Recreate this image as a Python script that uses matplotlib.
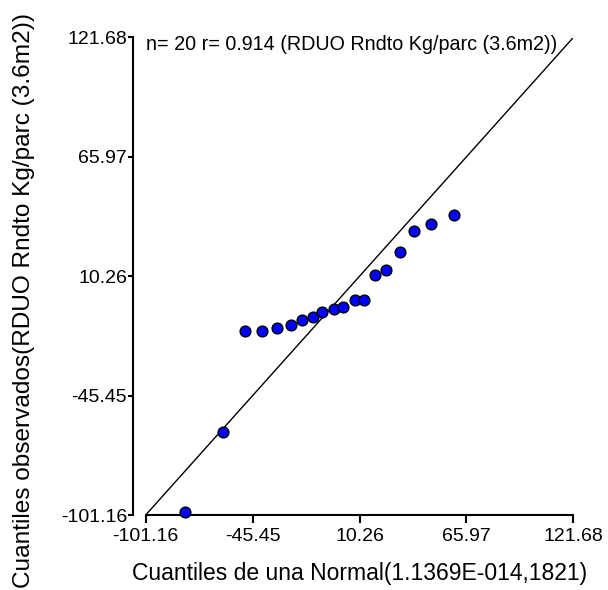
import matplotlib
matplotlib.use("Agg")
import matplotlib.pyplot as plt

plt.rcParams['font.family'] = ['Liberation Sans', 'DejaVu Sans']

# Data
theoretical = [-80.7, -60.9, -49.4, -40.4, -32.6, -25.6, -19.7, -13.9, -9.3, -3.0,
               1.8, 7.8, 12.6, 18.5, 24.2, 31.5, 38.5, 47.4, 59.3]
observed = [-99.8, -62.4, -15.2, -15.2, -13.9, -12.4, -10.3, -8.6, -6.6, -4.9,
            -3.9, -1.0, -1.0, 11.0, 13.0, 21.4, 31.4, 34.5, 39.0]
ticks = [-101.16, -45.45, 10.26, 65.97, 121.68]
tick_labels = ["-101.16", "-45.45", "10.26", "65.97", "121.68"]
lo, hi = -101.16, 121.68

fig = plt.figure(figsize=(6.08, 5.90), dpi=100)
ax = fig.add_axes([145.7/608, 1-515/590, (573.3-145.7)/608, (515-37.5)/590])

ax.plot([lo, hi], [lo, hi], color='black', lw=1.0, zorder=2)
ax.scatter(theoretical, observed, s=60, c='#0000FF', edgecolors='black',
           linewidths=1.0, zorder=3, clip_on=False)

ax.set_xlim(lo, hi)
ax.set_ylim(lo, hi)
ax.set_xticks(ticks)
ax.set_xticklabels(tick_labels)
ax.set_yticks(ticks)
ax.set_yticklabels(tick_labels)

for s in ['top', 'right']:
    ax.spines[s].set_visible(False)
for s in ['left', 'bottom']:
    ax.spines[s].set_linewidth(1.5)
ax.spines['left'].set_position(('outward', 9))

ax.tick_params(axis='x', direction='out', length=5.5, width=1.5, labelsize=14, pad=4)
ax.tick_params(axis='y', direction='out', length=3.5, width=1.5, labelsize=14, pad=1)

ax.set_xlabel("Cuantiles de una Normal(1.1369E-014,1821)", fontsize=16.5, labelpad=12)

fig.text(24/608, 2/590, "Cuantiles observados(RDUO Rndto Kg/parc (3.6m2))",
         rotation=90, fontsize=17.6, ha='center', va='bottom')

ax.text(0.0, 1.005, "n= 20 r= 0.914 (RDUO Rndto Kg/parc (3.6m2))",
        transform=ax.transAxes, fontsize=14.2, ha='left', va='top')

fig.savefig("out.png", dpi=100)
